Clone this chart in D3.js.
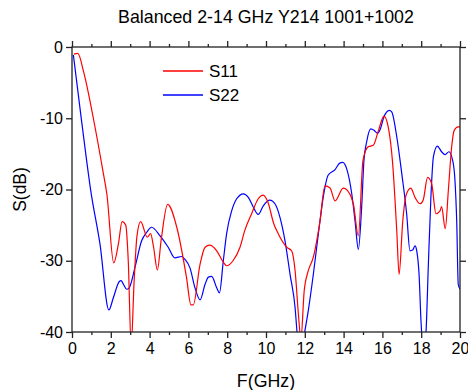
<!DOCTYPE html>
<html>
<head>
<meta charset="utf-8">
<script src="https://cdn.jsdelivr.net/npm/d3@7"></script>
<style>
  body { margin: 0; background: #fff; }
  svg { font-family: "Liberation Sans", Arial, sans-serif; }
</style>
</head>
<body>
<div id="chart"></div>
<script>
// S11 (red) and S22 (blue)
const s11Freq = [0.1, 0.3, 0.6, 1.1, 1.6, 1.8, 2.15, 2.4, 2.58, 2.77, 2.9, 3.05, 3.2, 3.35, 3.54, 3.88, 4.05, 4.2, 4.4, 4.6, 4.93, 5.4, 5.9, 6.13, 6.25, 6.6, 6.86, 7.1, 7.46, 7.8, 7.97, 8.3, 8.66, 8.9, 9.26, 9.6, 9.86, 10.1, 10.4, 10.63, 11.07, 11.32, 11.5, 11.67, 11.8, 11.97, 12.18, 12.44, 12.78, 13.04, 13.3, 13.56, 13.98, 14.1, 14.5, 14.76, 15.0, 15.27, 15.53, 15.8, 16.08, 16.3, 16.53, 16.74, 16.86, 17.05, 17.22, 17.46, 17.68, 17.94, 18.1, 18.33, 18.54, 18.76, 18.97, 19.05, 19.24, 19.4, 19.57, 19.7, 19.9, 20.0];
const s11Db = [-1.0, -0.9, -3.5, -10, -17.5, -20.7, -30.3, -27.5, -24.5, -25, -30, -42, -33, -26.5, -24.5, -26.7, -26.2, -28, -31.3, -27, -22.1, -25.3, -32.3, -36.2, -36.2, -30.5, -28.1, -27.8, -28.6, -30.2, -30.7, -30, -28.1, -25.8, -23.4, -21.3, -20.8, -21.8, -24.8, -26.2, -28.1, -28.6, -31.4, -37.5, -41, -34.2, -31.4, -29.5, -24.5, -19.5, -19.8, -21.6, -19.8, -19.9, -22, -26.5, -15.9, -14, -13.8, -11.7, -9.7, -11.2, -16.4, -25.8, -31.9, -24.4, -20.8, -19.8, -21.1, -22, -21.5, -18.3, -19.2, -23.4, -23, -22.4, -25.5, -20.1, -14, -11.7, -11.2, -11.2];

const s22Freq = [0.07, 0.5, 0.98, 1.44, 1.9, 2.13, 2.44, 2.53, 2.65, 2.82, 2.95, 3.25, 3.59, 3.85, 4.1, 4.54, 4.96, 5.3, 5.65, 5.82, 6.08, 6.34, 6.6, 6.86, 7.03, 7.2, 7.46, 7.6, 7.8, 7.97, 8.23, 8.49, 8.83, 9.09, 9.35, 9.6, 9.86, 10.2, 10.46, 10.72, 10.98, 11.24, 11.5, 11.6, 11.8, 12.0, 12.18, 12.44, 12.7, 12.95, 13.2, 13.56, 13.8, 13.95, 14.16, 14.42, 14.59, 14.76, 14.93, 15.05, 15.19, 15.4, 15.57, 15.74, 15.88, 16.08, 16.36, 16.48, 16.74, 17.0, 17.25, 17.42, 17.56, 17.68, 17.77, 17.89, 17.99, 18.12, 18.25, 18.37, 18.5, 18.63, 18.83, 19.05, 19.23, 19.43, 19.62, 19.74, 19.83, 19.91, 20.0];
const s22Db = [-1.1, -10.5, -20.4, -27.6, -36.9, -35.2, -32.9, -32.8, -33.3, -34, -33.8, -30.9, -27.2, -26, -25.3, -26.5, -28.1, -29.6, -29.4, -29.8, -31, -33.8, -35.5, -33.3, -32.3, -32.2, -33.8, -34.5, -30, -26.2, -23, -21.3, -20.6, -21.1, -22.5, -23.5, -22.3, -21.5, -22, -23.9, -27.2, -31.9, -36.6, -40, -43, -39.9, -37, -31.9, -26.2, -21.1, -18, -17.2, -16.3, -16.2, -17.1, -20.6, -24.4, -28.4, -22.5, -15.9, -13.3, -11.5, -11.7, -12.1, -11.6, -9.8, -8.9, -9.1, -12.6, -17.8, -23.4, -28.6, -28.5, -27.9, -28.6, -31.9, -38.5, -43, -39.9, -30.5, -21.1, -15.4, -13.9, -14.7, -15.1, -14.7, -15.9, -18.7, -24.4, -33.3, -34];

const xTicks = [0, 2, 4, 6, 8, 10, 12, 14, 16, 18, 20];
const yTicks = [0, -10, -20, -30, -40];
const seriesNames = ["S11", "S22"];
const seriesColors = ["#ff0000", "#0000ff"];

const W = 468, H = 390;
const margin = { top: 47, right: 8, bottom: 58, left: 72 };
const width = W - margin.left - margin.right;
const height = H - margin.top - margin.bottom;

const svg = d3.select("#chart").append("svg")
  .attr("width", W).attr("height", H);

const g = svg.append("g")
  .attr("transform", `translate(${margin.left},${margin.top})`);

const x = d3.scaleLinear().domain([0, 20]).range([0, width]);
const y = d3.scaleLinear().domain([-40, 0]).range([height, 0]);

g.append("clipPath").attr("id", "clip")
  .append("rect").attr("width", width).attr("height", height);

const series = [
  d3.zip(s11Freq, s11Db),
  d3.zip(s22Freq, s22Db)
];

const line = d3.line()
  .x(d => x(d[0]))
  .y(d => y(d[1]))
  .curve(d3.curveMonotoneX);

// S22 first, S11 drawn over it
g.append("g").attr("clip-path", "url(#clip)")
  .selectAll("path")
  .data([1, 0])
  .enter()
  .append("path")
  .attr("d", i => line(series[i]))
  .attr("fill", "none")
  .attr("stroke", i => seriesColors[i])
  .attr("stroke-width", 1.2);

// axes, ticks outward on all four sides
const minor = d3.range(1, 20, 2);
const axisColor = "#222";
const fmt = d => String(d); // plain hyphen minus like the original

function styleAxis(sel) {
  sel.select(".domain").remove();
  sel.selectAll("line").attr("stroke", axisColor).attr("stroke-width", 1.3);
  sel.selectAll("text").style("font-size", "16px").attr("fill", "#000");
}

g.append("g").attr("transform", `translate(0,${height})`)
  .call(d3.axisBottom(x).tickValues(xTicks).tickSize(6).tickPadding(5).tickFormat(fmt))
  .call(styleAxis);
g.append("g").attr("transform", `translate(0,${height})`)
  .call(d3.axisBottom(x).tickValues(minor).tickSize(3).tickFormat(""))
  .call(styleAxis);

g.append("g")
  .call(d3.axisTop(x).tickValues(xTicks).tickSize(6).tickFormat(""))
  .call(styleAxis);
g.append("g")
  .call(d3.axisTop(x).tickValues(minor).tickSize(3).tickFormat(""))
  .call(styleAxis);

g.append("g")
  .call(d3.axisLeft(y).tickValues(yTicks).tickSize(6).tickPadding(3).tickFormat(fmt))
  .call(styleAxis);
g.append("g").attr("transform", `translate(${width},0)`)
  .call(d3.axisRight(y).tickValues(yTicks).tickSize(6).tickFormat(""))
  .call(styleAxis);

g.append("rect")
  .attr("width", width).attr("height", height)
  .attr("fill", "none").attr("stroke", axisColor).attr("stroke-width", 1.3);

// legend
const legend = g.selectAll(".legend")
  .data(seriesNames)
  .enter()
  .append("g")
  .attr("transform", (d, i) => `translate(91,${24 + i * 24})`);
legend.append("line")
  .attr("x1", 0).attr("x2", 40)
  .attr("stroke", (d, i) => seriesColors[i])
  .attr("stroke-width", 1.3);
legend.append("text")
  .attr("x", 46).attr("y", 6)
  .style("font-size", "17px")
  .text(d => d);

// title and axis labels
svg.append("text")
  .attr("x", margin.left + width / 2).attr("y", 23)
  .attr("text-anchor", "middle")
  .style("font-size", "17.8px")
  .text("Balanced 2-14 GHz Y214 1001+1002");

svg.append("text")
  .attr("x", margin.left + width / 2).attr("y", 387)
  .attr("text-anchor", "middle")
  .style("font-size", "17.8px")
  .text("F(GHz)");

svg.append("text")
  .attr("transform", "rotate(-90)")
  .attr("x", -(margin.top + height / 2)).attr("y", 26)
  .attr("text-anchor", "middle")
  .style("font-size", "17.5px")
  .text("S(dB)");
</script>
</body>
</html>
